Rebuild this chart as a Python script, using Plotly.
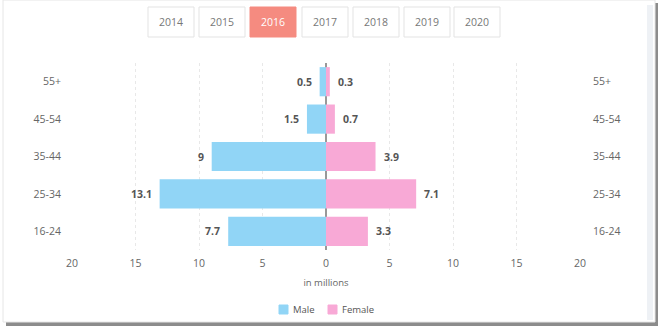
import plotly.graph_objects as go

age_groups = ["16-24", "25-34", "35-44", "45-54", "55+"]
male = [7.7, 13.1, 9, 1.5, 0.5]
female = [3.3, 7.1, 3.9, 0.7, 0.3]
x_ticks = [-20, -15, -10, -5, 0, 5, 10, 15, 20]
x_tick_labels = ["20", "15", "10", "5", "0", "5", "10", "15", "20"]
years = ["2014", "2015", "2016", "2017", "2018", "2019", "2020"]
active_year = "2016"
series_names = ["Male", "Female"]

MALE_C = "#91d5f6"
FEMALE_C = "#f8a9d6"

# pixel -> paper helpers (plot area x: 72..580, y: 63..250)
L, R, T, B = 72, 580, 63, 250
def px(x):
    return (x - L) / (R - L)
def py(y):
    return (B - y) / (B - T)

fig = go.Figure()
fig.add_trace(go.Bar(
    y=age_groups, x=[-v for v in male], orientation="h", name=series_names[0],
    marker=dict(color=MALE_C, line=dict(width=0)), width=0.78,
    showlegend=False, hoverinfo="skip"))
fig.add_trace(go.Bar(
    y=age_groups, x=female, orientation="h", name=series_names[1],
    marker=dict(color=FEMALE_C, line=dict(width=0)), width=0.78,
    showlegend=False, hoverinfo="skip"))
fig.add_trace(go.Scatter(
    y=age_groups, x=[0] * len(age_groups), yaxis="y2", mode="markers",
    marker=dict(opacity=0), showlegend=False, hoverinfo="skip"))

shapes = []
annotations = []
lab_font = dict(family="Open Sans", size=10.5, color="#555555", weight="bold")
for cat, v in zip(age_groups, male):
    annotations.append(dict(x=-v, y=cat, xref="x", yref="y", text=f"{v:g}",
                            showarrow=False, xanchor="right", yanchor="middle",
                            xshift=-6, font=lab_font))
for cat, v in zip(age_groups, female):
    annotations.append(dict(x=v, y=cat, xref="x", yref="y", text=f"{v:g}",
                            showarrow=False, xanchor="left", yanchor="middle",
                            xshift=6, font=lab_font))

# outer card: shadow + frame
shapes.append(dict(type="rect", xref="paper", yref="paper",
                   x0=px(6), x1=px(658), y0=py(326), y1=py(3),
                   fillcolor="#8c8c8c", line=dict(width=0), layer="below"))
shapes.append(dict(type="rect", xref="paper", yref="paper",
                   x0=px(3), x1=px(655), y0=py(322), y1=py(0),
                   fillcolor="white", line=dict(color="#e6e6e6", width=1), layer="below"))
shapes.append(dict(type="rect", xref="paper", yref="paper",
                   x0=px(647), x1=px(653), y0=py(320), y1=py(5),
                   fillcolor="#eef1f5", line=dict(width=0), layer="below"))

# year buttons
btn_x = [148, 199, 250, 302, 353, 404, 454]
for yr, bx in zip(years, btn_x):
    active = yr == active_year
    shapes.append(dict(type="rect", xref="paper", yref="paper",
                       x0=px(bx), x1=px(bx + 46), y0=py(37), y1=py(7),
                       fillcolor="#f58b80" if active else "white",
                       line=dict(color="#f58b80" if active else "#e3e3e3", width=1)))
    annotations.append(dict(text=yr, xref="paper", yref="paper",
                            x=px(bx + 23), y=py(22), showarrow=False,
                            xanchor="center", yanchor="middle",
                            font=dict(family="Open Sans", size=10.5,
                                      color="white" if active else "#777777")))

# legend (manual)
leg_x = [279, 328]
for name, color, lx in zip(series_names, [MALE_C, FEMALE_C], leg_x):
    shapes.append(dict(type="rect", xref="paper", yref="paper",
                       x0=px(lx), x1=px(lx + 9), y0=py(314), y1=py(305),
                       fillcolor=color, line=dict(color=color, width=1)))
    annotations.append(dict(text=name, xref="paper", yref="paper",
                            x=px(lx + 12), y=py(309.5), showarrow=False,
                            xanchor="left", yanchor="middle",
                            font=dict(family="Open Sans", size=9.5, color="#555555")))

fig.update_layout(
    width=660, height=329,
    margin=dict(l=L, r=660 - R, t=T, b=329 - B),
    paper_bgcolor="white", plot_bgcolor="white",
    barmode="overlay",
    showlegend=False,
    font=dict(family="Open Sans", size=10.5, color="#666666"),
    xaxis=dict(range=[-20, 20], tickvals=x_ticks, ticktext=x_tick_labels,
               showgrid=True, gridcolor="#e8e8e8", griddash="dot", gridwidth=1,
               zeroline=True, zerolinecolor="#999999", zerolinewidth=1.5,
               showline=False, ticks="", ticklabelstandoff=5,
               tickfont=dict(size=10.5, color="#666666"),
               title=dict(text="in millions", font=dict(size=9.5, color="#666666"), standoff=10),
               fixedrange=True),
    yaxis=dict(type="category", categoryorder="array", categoryarray=age_groups,
               range=[-0.5, 4.5], showgrid=False, zeroline=False, showline=False,
               ticks="", ticklabelstandoff=10, tickfont=dict(size=10.5, color="#666666"),
               fixedrange=True),
    yaxis2=dict(type="category", categoryorder="array", categoryarray=age_groups,
                range=[-0.5, 4.5], overlaying="y", side="right", showgrid=False,
                zeroline=False, showline=False, ticks="", ticklabelstandoff=12,
                tickfont=dict(size=10.5, color="#666666"), fixedrange=True),
    shapes=shapes, annotations=annotations,
)

fig.write_html("out.html")
